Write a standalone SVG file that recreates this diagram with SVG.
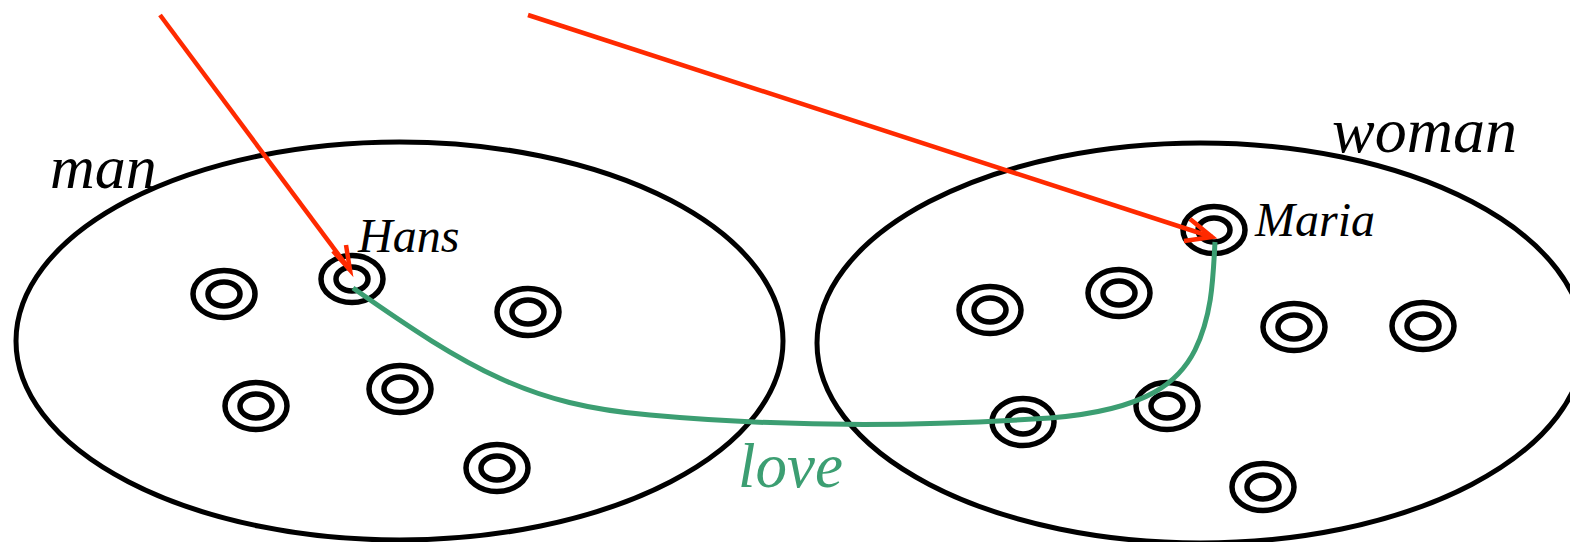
<svg xmlns="http://www.w3.org/2000/svg" width="1570" height="542" viewBox="0 0 1570 542">
<style>
.set{fill:none;stroke:#000;stroke-width:5}
.t{fill:none;stroke:#000;stroke-width:5.5}
.lbl{font-family:"Liberation Serif",serif;font-style:italic;fill:#000}
.red{fill:none;stroke:#ff2a00;stroke-width:4.5}
.grn{fill:none;stroke:#3c9e72;stroke-width:5}
</style>
<defs>
<g id="tg"><ellipse rx="31" ry="23.5" class="t"/><ellipse rx="16" ry="12" class="t"/></g>
</defs>
<g id="man"><ellipse cx="399.5" cy="341" rx="383.5" ry="199" class="set"/><text x="50" y="188" class="lbl" font-size="62">man</text></g>
<g id="woman"><ellipse cx="1200.5" cy="343" rx="383.5" ry="200" class="set"/><text x="1332" y="152" class="lbl" font-size="64">woman</text></g>
<g id="m1"><use href="#tg" x="224" y="294"/></g>
<g id="hans"><use href="#tg" x="352" y="279"/><text x="358" y="252" class="lbl" font-size="48">Hans</text></g>
<g id="m3"><use href="#tg" x="528" y="312"/></g>
<g id="m4"><use href="#tg" x="256" y="406"/></g>
<g id="m5"><use href="#tg" x="400" y="389"/></g>
<g id="m6"><use href="#tg" x="497" y="468"/></g>
<g id="w1"><use href="#tg" x="990" y="310"/></g>
<g id="w2"><use href="#tg" x="1119" y="293"/></g>
<g id="maria"><use href="#tg" x="1214" y="230"/><text x="1255" y="236" class="lbl" font-size="48">Maria</text></g>
<g id="w4"><use href="#tg" x="1294" y="327"/></g>
<g id="w5"><use href="#tg" x="1423" y="326"/></g>
<g id="w6"><use href="#tg" x="1023" y="422"/></g>
<g id="w7"><use href="#tg" x="1167" y="406"/></g>
<g id="w8"><use href="#tg" x="1263" y="487"/></g>
<g id="connectors">
<path class="red" d="M160,15 L350,270"/>
<path class="red" d="M333,251 L350,270 L346,245"/>
<path class="red" d="M528,15 L1212,237"/>
<path class="red" d="M1190,219 L1212,237 L1184,241"/>
<path class="grn" d="M353,288 C470,370 530,405 650,415 C760,425 900,428 1050,418 C1150,410 1180,380 1195,350 C1212,315 1213,280 1215,242"/>
<text x="738" y="487" font-family="Liberation Serif,serif" font-style="italic" font-size="63" fill="#3c9e72">love</text>
</g>
</svg>
